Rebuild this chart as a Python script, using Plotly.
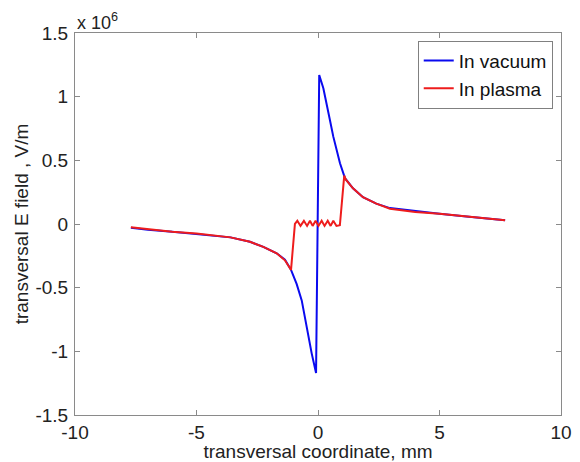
import plotly.graph_objects as go

# Blue: field in vacuum (units of 1e6 V/m)
x_vac = [-7.7, -7, -6, -5, -4, -3.6, -2.8, -2.25, -1.7, -1.36, -1.11, -0.88, -0.67, -0.47, -0.26, -0.08,
         0.05, 0.22, 0.36, 0.49, 0.63, 0.77, 0.905, 1.11, 1.44, 1.85, 2.4, 2.96, 4, 5, 6, 7, 7.7]
y_vac = [-0.03, -0.045, -0.06, -0.08, -0.095, -0.105, -0.14, -0.18, -0.23, -0.28, -0.36, -0.47, -0.60,
         -0.81, -1.016, -1.17, 1.17, 1.066, 0.948, 0.817, 0.686, 0.568, 0.477, 0.36, 0.28, 0.21, 0.16, 0.125,
         0.10, 0.08, 0.06, 0.045, 0.03]

# Red: field in plasma
x_pl = [-7.7, -7, -6, -5, -4, -3.6, -2.8, -2.25, -1.7, -1.36, -1.11, -0.95, -0.85, -0.72, -0.58, -0.45, -0.33,
        -0.22, -0.10, 0.02, 0.15, 0.27, 0.40, 0.52, 0.63, 0.76, 0.90, 1.08, 1.14, 1.44, 1.85, 2.4, 2.96,
        4, 5, 6, 7, 7.7]
y_pl = [-0.025, -0.04, -0.06, -0.075, -0.095, -0.105, -0.14, -0.18, -0.23, -0.285, -0.36, 0.0, 0.025, -0.015,
        0.025, -0.015, 0.025, -0.015, 0.025, -0.015, 0.025, -0.015, 0.025, -0.015, 0.025, -0.015, -0.01,
        0.38, 0.35, 0.28, 0.21, 0.16, 0.12, 0.095, 0.08, 0.06, 0.045, 0.03]

SCALE = 1e6

x_ticks = [-10, -5, 0, 5, 10]
y_ticks = [-1.5, -1, -0.5, 0, 0.5, 1, 1.5]

fig = go.Figure()
fig.add_trace(go.Scatter(x=x_vac, y=[v * SCALE for v in y_vac], mode="lines", name="In vacuum",
                         line=dict(color="#0a0aef", width=2)))
fig.add_trace(go.Scatter(x=x_pl, y=[v * SCALE for v in y_pl], mode="lines", name="In plasma",
                         line=dict(color="#ee1c1c", width=2)))

font = dict(family="Liberation Sans, Arial, sans-serif", size=19, color="#222222")

fig.update_layout(
    width=580, height=462,
    margin=dict(l=75, r=19, t=33, b=47),
    paper_bgcolor="white", plot_bgcolor="white",
    font=font,
    showlegend=True,
    legend=dict(x=0.983, y=0.98, xanchor="right", yanchor="top", bgcolor="white",
                bordercolor="#808080", borderwidth=1, font=dict(size=19, color="#111111"),
                tracegroupgap=0, itemwidth=30),
    xaxis=dict(range=[-10, 10], tickvals=x_ticks, ticktext=[str(t) for t in x_ticks],
               automargin=False,
               showgrid=False, zeroline=False, showline=True, linecolor="#8a8a8a", linewidth=1,
               mirror="ticks", ticks="inside", ticklen=5, tickcolor="#8a8a8a",
               title=dict(text="transversal coordinate, mm", font=dict(size=19), standoff=2)),
    yaxis=dict(range=[-1.5 * SCALE, 1.5 * SCALE], tickvals=[t * SCALE for t in y_ticks],
               ticktext=[("%g" % t) for t in y_ticks],
               automargin=False,
               showgrid=False, zeroline=False, showline=True, linecolor="#8a8a8a", linewidth=1,
               mirror="ticks", ticks="inside", ticklen=5, tickcolor="#8a8a8a",
               ticklabelstandoff=2,
               title=dict(text="transversal E field , V/m", font=dict(size=19), standoff=1)),
    annotations=[dict(text="x 10<sup>6</sup>", xref="paper", yref="paper", x=0.0, y=1.0,
                      xanchor="left", yanchor="bottom", showarrow=False, yshift=-2,
                      font=dict(size=18, color="#222222"))],
)

fig.write_html("out.html", config={"displayModeBar": False},
               post_script="document.body.style.margin='0';")
